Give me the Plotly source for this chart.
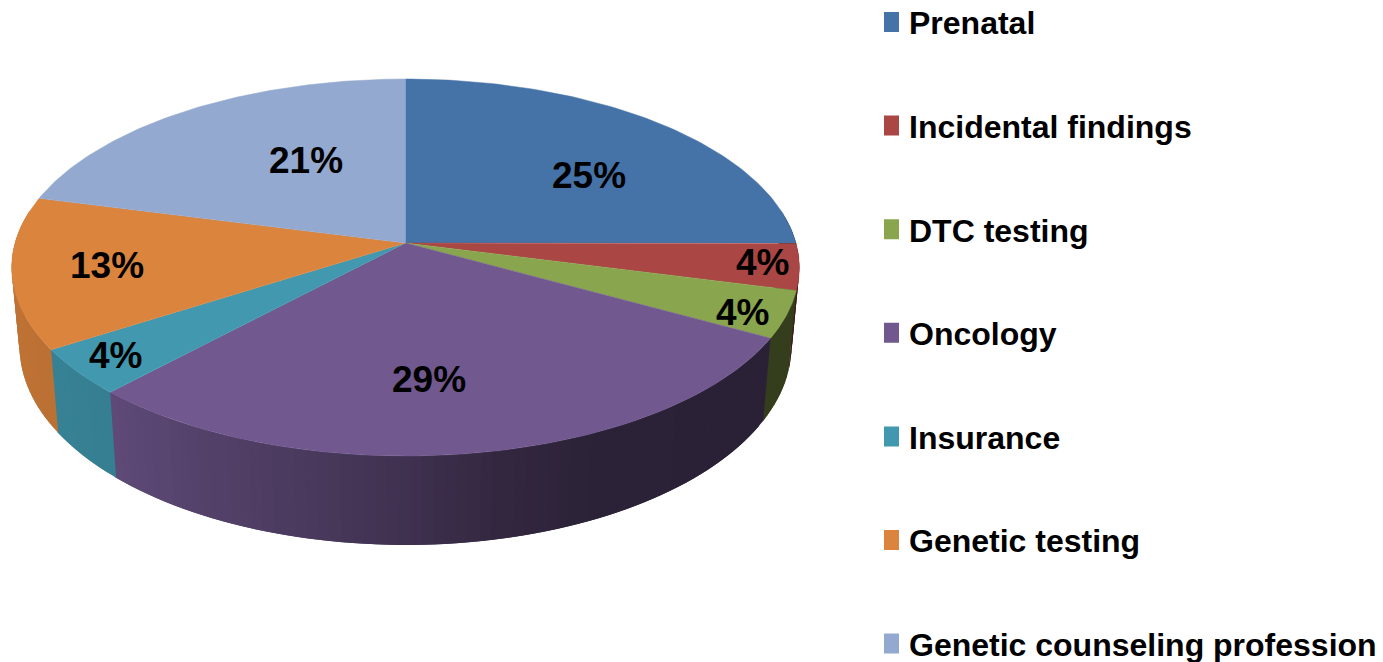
import numpy as np
import plotly.graph_objects as go

categories = ["Prenatal", "Incidental findings", "DTC testing", "Oncology",
              "Insurance", "Genetic testing", "Genetic counseling profession"]
shares = [25, 4, 4, 29, 4, 13, 21]
colors = ["#4572A7", "#AA4643", "#89A54E", "#71588F", "#4198AF", "#DB843D", "#93A9CF"]

# pixel offsets of the labels from the middle of each slice
label_shift = [(2, 19), (83, 3), (74, 20), (-23, -4), (-66, 25), (-25, 2), (57, 13)]

# perspective of the pie in page pixels
CX, CY = 405.5, 243
RX, RY = 390.5, 185.3
TILT = 0.13
DEPTH = 77.4
BASE_SCALE = 0.98
FONT = "Liberation Sans"

# how much the side wall is darkened, by page x
shade_x = [15, 120, 200, 300, 400, 500, 600, 800]
shade_k = [0.87, 0.83, 0.75, 0.66, 0.57, 0.45, 0.39, 0.38]


def top_rim(theta, r=1.0):
    u, v = r * np.sin(theta), r * np.cos(theta)
    d = 1 + TILT * v
    return CX + RX * u / d, CY - RY * v / d


def bottom_rim(theta):
    x, y = top_rim(theta)
    d = 1 + TILT * np.cos(theta)
    return CX + (x - CX) * BASE_SCALE, y + DEPTH / d


def darker(color, k):
    rgb = [int(color[i:i + 2], 16) for i in (1, 3, 5)]
    return "rgb(%d,%d,%d)" % tuple(c * k for c in rgb)


fig = go.Figure()
edges = np.cumsum([0] + shares) / sum(shares) * 2 * np.pi

# side wall, in narrow strips so the shading can change along it
# each strip runs on under the next one, otherwise seams show
for i, color in enumerate(colors):
    lo, hi = max(edges[i], np.radians(80)), min(edges[i + 1], np.radians(280))
    if hi <= lo:
        continue
    steps = np.linspace(lo, hi, max(2, int(np.degrees(hi - lo) / 1.5) + 1))
    gap = steps[1] - steps[0]
    for a, b in zip(steps[:-1], steps[1:]):
        arc = np.linspace(a, min(b + gap, hi + 0.005), 4)
        tx, ty = top_rim(arc)
        bx, by = bottom_rim(arc)
        c = darker(color, np.interp(top_rim((a + b) / 2)[0], shade_x, shade_k))
        fig.add_trace(go.Scatter(
            x=np.r_[tx, bx[::-1]], y=np.r_[ty, by[::-1]], mode="lines", fill="toself",
            fillcolor=c, line=dict(width=0),
            showlegend=False, hoverinfo="skip"))

# top face
for i, color in enumerate(colors):
    arc = np.linspace(edges[i], edges[i + 1], 90)
    tx, ty = top_rim(arc)
    fig.add_trace(go.Scatter(
        x=np.r_[CX, tx], y=np.r_[CY, ty], mode="lines", fill="toself",
        fillcolor=color, line=dict(color=color, width=0.5),
        name=categories[i], showlegend=False, hoverinfo="skip"))

# legend entries, the legend caps marker size so the outline makes up the rest
for i, color in enumerate(colors):
    fig.add_trace(go.Scatter(
        x=[None], y=[None], mode="markers", name=categories[i], legendgroup=categories[i],
        marker=dict(symbol="square", size=16, color=color, line=dict(color=color, width=4))))

# percent labels
for i, share in enumerate(shares):
    lx, ly = top_rim((edges[i] + edges[i + 1]) / 2, 0.7)
    fig.add_annotation(
        x=lx, y=ly, text="%d%%" % share, showarrow=False, xshift=label_shift[i][0],
        yshift=-label_shift[i][1],
        font=dict(family=FONT, size=37, color="black", weight="bold"))

fig.update_layout(
    width=1383, height=662, margin=dict(l=0, r=0, t=0, b=0, autoexpand=False),
    paper_bgcolor="white", plot_bgcolor="white",
    xaxis=dict(range=[0, 1383], visible=False, fixedrange=True),
    yaxis=dict(range=[662, 0], visible=False, fixedrange=True),
    legend=dict(
        x=884 / 1383, y=1.008, xanchor="left", yanchor="top",
        traceorder="grouped", tracegroupgap=59, indentation=-15, maxheight=900,
        font=dict(family=FONT, size=32, color="black", weight="bold"),
        bgcolor="rgba(0,0,0,0)"),
)
fig.write_html("out.html", config={"displayModeBar": False},
               post_script="document.body.style.margin = '0';")
